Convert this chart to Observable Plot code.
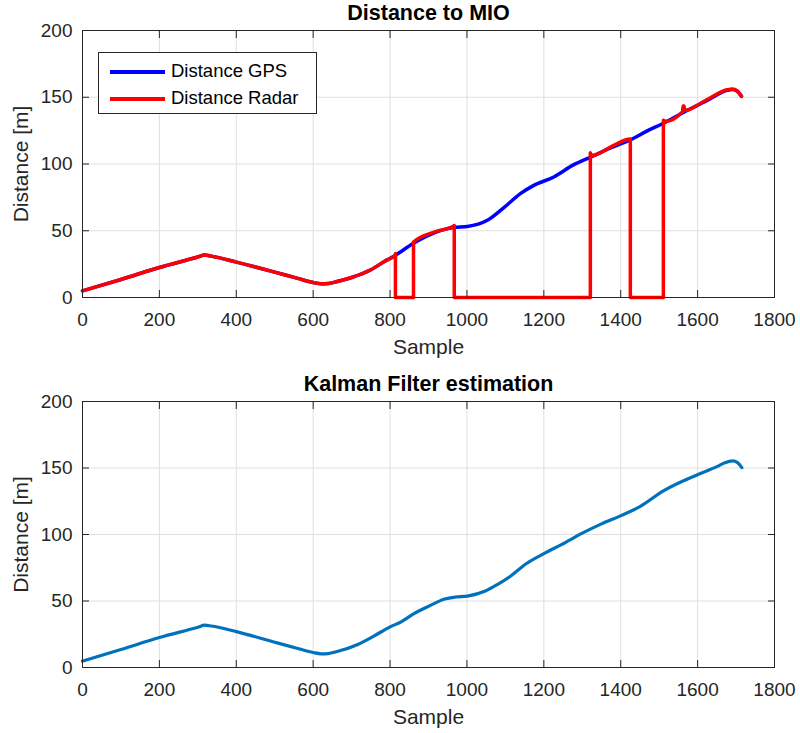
<!DOCTYPE html>
<html>
<head>
<meta charset="utf-8">
<script src="https://cdn.jsdelivr.net/npm/d3@7"></script>
<script src="https://cdn.jsdelivr.net/npm/@observablehq/plot@0.6"></script>
<style>
  body { margin: 0; background: #fff; font-family: "Liberation Sans", Arial, sans-serif; }
  #wrap { position: relative; width: 800px; height: 733px; overflow: hidden; }
  #top, #bottom { position: absolute; left: 0; }
  #top { top: 0; }
  #bottom { top: 367px; }
  .legend { position: absolute; left: 98px; top: 52px; width: 219px; height: 62px; border: 1px solid #262626; background: #fff; box-sizing: border-box; }
  .legend .item { position: absolute; left: 0; height: 20px; width: 100%; }
  .legend .sw { position: absolute; left: 11px; width: 55px; height: 3.5px; top: 8px; }
  .legend .lb { position: absolute; left: 72px; top: -1px; font-size: 18.5px; line-height: 20px; color: #000; white-space: nowrap; }
</style>
</head>
<body>
<div id="wrap">
  <div id="top"></div>
  <div id="bottom"></div>
  <div class="legend" id="legend"></div>
</div>
<script>
// ---- data ----
const xTicks = [0, 200, 400, 600, 800, 1000, 1200, 1400, 1600, 1800];
const xTickLabels = ["0", "200", "400", "600", "800", "1000", "1200", "1400", "1600", "1800"];
const yTicks = [0, 50, 100, 150, 200];
const yTickLabels = ["0", "50", "100", "150", "200"];

const seriesNames = ["Distance GPS", "Distance Radar"];
const seriesColors = ["#0000ff", "#ff0000"];
const kalmanColor = "#0072bd";

const gpsSample = [0, 100, 200, 300, 318, 335, 400, 500, 560, 600, 620, 640, 660, 700, 750, 790, 813, 860, 915, 965, 1001, 1053, 1096, 1139, 1174, 1226, 1278, 1320, 1382, 1421, 1469, 1511, 1564, 1620, 1677, 1690, 1703, 1714];
const gpsDist   = [5, 13.5, 22.5, 30.3, 31.8, 31, 26.5, 19, 14.3, 11.3, 10.3, 10.5, 11.8, 15, 20.8, 27.8, 31.5, 40.5, 48.5, 52.5, 53.2, 57.8, 67.3, 77.8, 84, 90.3, 99.5, 105, 113, 117.5, 124.8, 130.5, 138.8, 146.8, 155.2, 155.8, 154.5, 150.7];

const radarSample = [0, 100, 200, 300, 318, 335, 400, 500, 560, 600, 620, 640, 660, 700, 750, 790, 813, 814, 814, 861, 861, 915, 966, 967, 967, 1321, 1321, 1324, 1382, 1424, 1425, 1425, 1511, 1511, 1515, 1561, 1562, 1565, 1566, 1620, 1677, 1690, 1703, 1714];
const radarDist   = [5, 13.5, 22.5, 30.3, 31.8, 31, 26.5, 19, 14.3, 11.3, 10.3, 10.5, 11.8, 15, 20.8, 27.8, 31.5, 33, 0, 0, 41.5, 49, 53.5, 54, 0, 0, 108.5, 106.2, 114, 118.8, 118.5, 0, 0, 132.8, 131.8, 139.2, 143.5, 143.5, 140, 147.6, 155.6, 156.2, 154.7, 150.8];

const kalmanSample = [0, 100, 200, 300, 318, 335, 400, 500, 560, 600, 620, 640, 660, 716, 760, 800, 830, 862, 900, 942, 970, 1001, 1048, 1080, 1114, 1154, 1200, 1247, 1300, 1350, 1399, 1450, 1512, 1598, 1650, 1671, 1691, 1704, 1715];
const kalmanDist   = [4.8, 13.5, 22.5, 30.3, 31.8, 31.2, 27, 19, 14.3, 11.3, 10.3, 10.5, 11.8, 17.3, 24, 30.5, 34.5, 40.5, 46, 51.5, 53, 53.7, 57.5, 62.5, 68.8, 78, 85.6, 92.6, 101, 108, 114, 121, 133, 144.8, 151, 154, 155.3, 154, 150.3];

const toRows = (xs, ys) => xs.map((s, i) => ({sample: s, dist: ys[i]}));
const gps = toRows(gpsSample, gpsDist);
const radar = toRows(radarSample, radarDist);
const kalman = toRows(kalmanSample, kalmanDist);

const FONT = "'Liberation Sans', Arial, Helvetica, sans-serif";
const AX = "#262626";

function panel({title, lines, height, marginTop, marginBottom}) {
  return Plot.plot({
    width: 800,
    height,
    marginLeft: 82,
    marginRight: 26,
    marginTop,
    marginBottom,
    style: {fontFamily: FONT, color: AX, background: "transparent", overflow: "visible"},
    x: {domain: [0, 1800]},
    y: {domain: [0, 200]},
    marks: [
      Plot.gridX({ticks: xTicks, stroke: "#dfdfdf", strokeOpacity: 1}),
      Plot.gridY({ticks: yTicks, stroke: "#dfdfdf", strokeOpacity: 1}),
      ...lines,
      Plot.frame({stroke: AX, strokeWidth: 1}),
      // inward ticks on all four sides
      Plot.axisX({ticks: xTicks, anchor: "bottom", tickSize: 7, dy: -7, tickFormat: () => "", label: null, stroke: AX}),
      Plot.axisX({ticks: xTicks, anchor: "top", tickSize: 7, dy: 7, tickFormat: () => "", label: null, stroke: AX}),
      Plot.axisY({ticks: yTicks, anchor: "left", tickSize: 7, dx: 7, tickFormat: () => "", label: null, stroke: AX}),
      Plot.axisY({ticks: yTicks, anchor: "right", tickSize: 7, dx: -7, tickFormat: () => "", label: null, stroke: AX}),
      // tick labels
      Plot.axisX({ticks: xTicks, anchor: "bottom", tickSize: 0, tickPadding: 15, fontSize: 19,
                  tickFormat: d => xTickLabels[xTicks.indexOf(d)], label: null}),
      Plot.axisY({ticks: yTicks, anchor: "left", tickSize: 0, tickPadding: 10, fontSize: 19,
                  tickFormat: d => yTickLabels[yTicks.indexOf(d)], label: null}),
      // titles and axis labels
      Plot.text([title], {text: d => d, frameAnchor: "top", dy: -26, lineAnchor: "top", textAnchor: "middle",
                          fontSize: 21.5, fontWeight: "bold", fill: "#000"}),
      Plot.text(["Sample"], {text: d => d, frameAnchor: "bottom", dy: 42, lineAnchor: "top", textAnchor: "middle",
                             fontSize: 21, fill: AX}),
      Plot.text(["Distance [m]"], {text: d => d, frameAnchor: "left", dx: -69, rotate: -90, textAnchor: "middle",
                                   lineAnchor: "top", fontSize: 21, fill: AX})
    ]
  });
}

document.getElementById("top").appendChild(panel({
  title: "Distance to MIO",
  height: 367, marginTop: 30, marginBottom: 70,
  lines: [
    Plot.line(gps, {x: "sample", y: "dist", stroke: seriesColors[0], strokeWidth: 3.5, curve: "monotone-x"}),
    Plot.line(radar, {x: "sample", y: "dist", stroke: seriesColors[1], strokeWidth: 3.5, curve: "monotone-x"})
  ]
}));

document.getElementById("bottom").appendChild(panel({
  title: "Kalman Filter estimation",
  height: 366, marginTop: 34, marginBottom: 66,
  lines: [
    Plot.line(kalman, {x: "sample", y: "dist", stroke: kalmanColor, strokeWidth: 3.2, curve: "monotone-x"})
  ]
}));

// legend
const legend = document.getElementById("legend");
seriesNames.forEach((name, i) => {
  const item = document.createElement("div");
  item.className = "item";
  item.style.top = (i === 0 ? 9 : 36) + "px";
  item.innerHTML = `<div class="sw" style="background:${seriesColors[i]}"></div><div class="lb">${name}</div>`;
  legend.appendChild(item);
});
</script>
</body>
</html>
